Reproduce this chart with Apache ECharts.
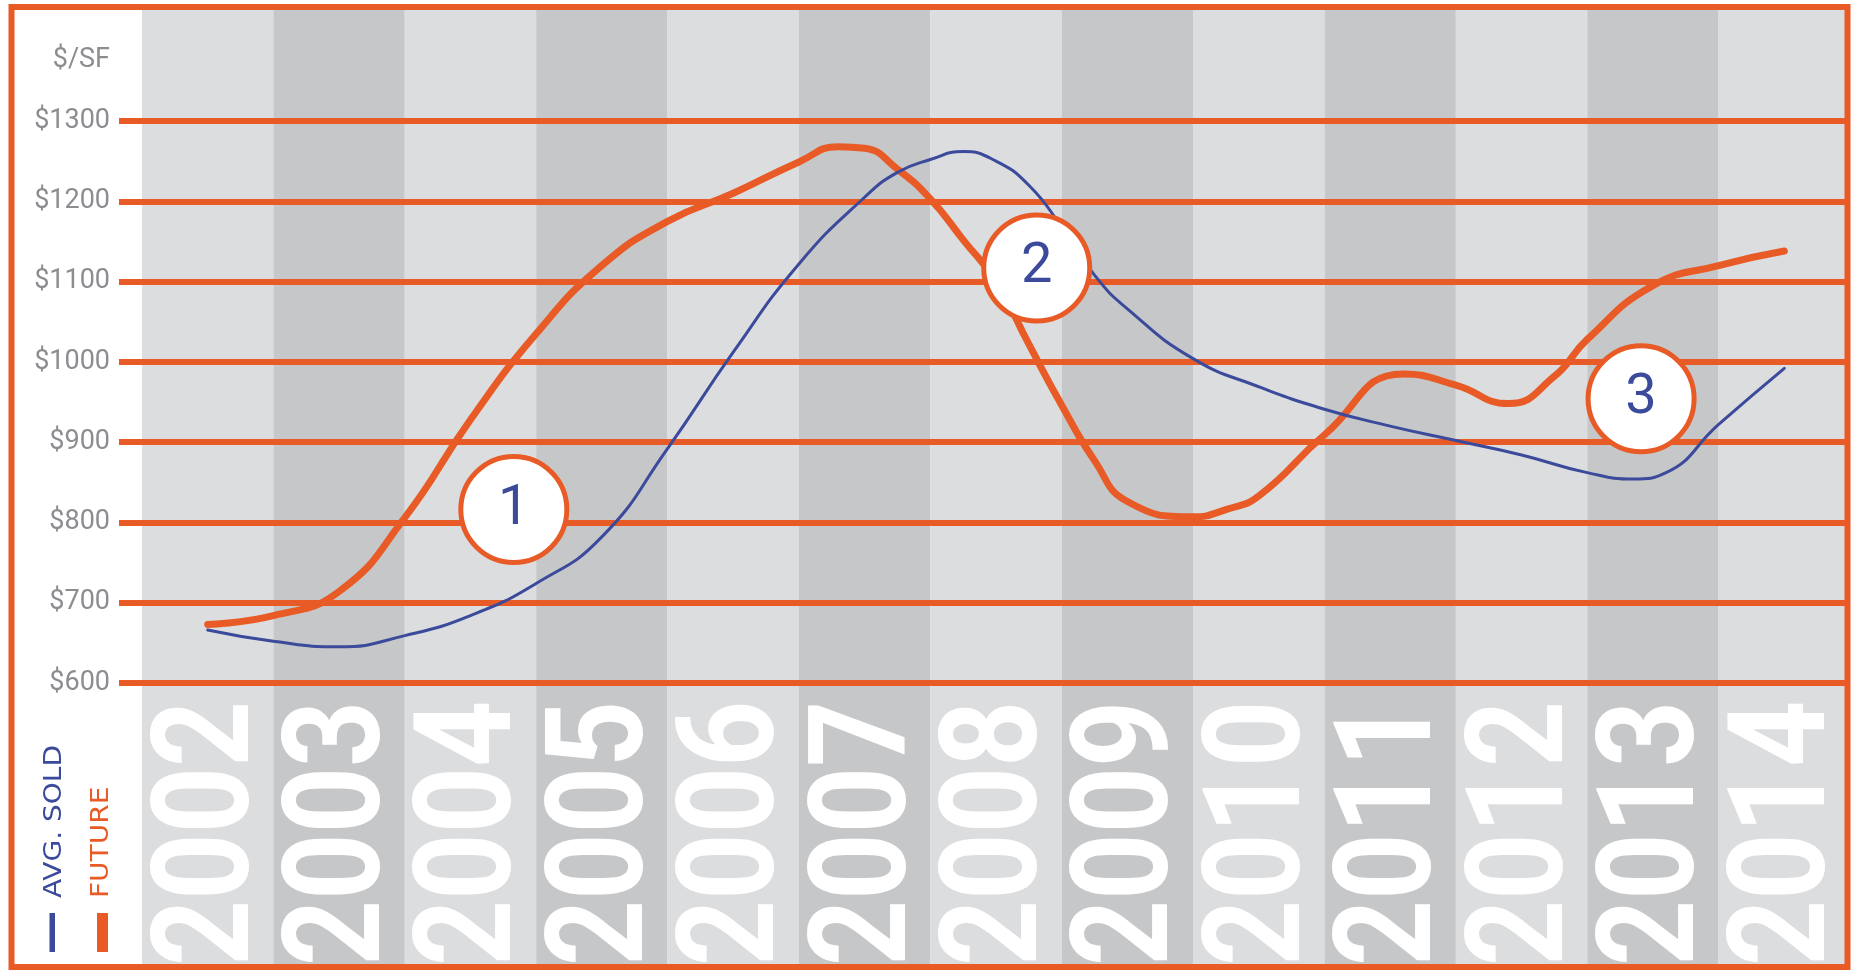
<!DOCTYPE html>
<html>
<head>
<meta charset="utf-8">
<script src="https://cdn.jsdelivr.net/npm/echarts@6/dist/echarts.min.js"></script>
<style>
html,body{margin:0;padding:0;background:#fff;}
#chart{width:1856px;height:970px;}
</style>
</head>
<body>
<div id="chart"></div>
<script>
// ---- data ----
const years = ['2002','2003','2004','2005','2006','2007','2008','2009','2010','2011','2012','2013','2014'];
// AVG. SOLD ($/SF), positions in years
const soldX = [2002,2002.5,2003,2003.5,2004,2004.5,2005,2005.5,2006,2006.5,2007,2007.25,2007.5,2007.75,2008,2008.25,2008.5,2008.75,2009,2009.5,2010,2010.5,2011,2011.5,2012,2012.5,2012.85,2013.1,2013.5,2014];
const soldY = [666,652,645,659,684,724,782,892,1012,1122,1205,1236,1252,1262,1250,1220,1168,1108,1066,1004,969,941,920,902,884,862,854,862,922,992];
// FUTURE ($/SF)
const futureX = [2002,2002.5,2003,2003.5,2004,2004.5,2005,2005.5,2006,2006.5,2006.8,2007,2007.25,2007.5,2007.75,2008,2008.25,2008.5,2008.75,2009,2009.5,2009.75,2010,2010.5,2011.1,2011.5,2011.9,2012.25,2012.5,2013,2013.5,2014];
const futureY = [673,684,714,806,928,1035,1120,1175,1210,1249,1268,1266,1240,1203,1152,1100,1022,946,877,826,807,816,833,909,985,971,948,982,1028,1095,1120,1138];
// numbered call-outs
const markerX = [2004.33, 2008.31, 2012.91];
const markerY = [816, 1117, 954];
const markerLabels = ['1','2','3'];
const yMin = 600, yMax = 1300, yStep = 100;

const ORANGE = '#e85b27', BLUE = '#3b4a9b', GRAY = '#8b8d91';
const LIGHT = '#dcdddf', DARK = '#c6c7c9';

const chart = echarts.init(document.getElementById('chart'), null, {renderer:'canvas'});
const option = {
  animation: false,
  backgroundColor: '#ffffff',
  grid: [
    {left:142, right:6, top:10, bottom:5},
    {left:142, right:6, top:121, bottom:287}
  ],
  xAxis: [
    {
      type:'category', gridIndex:0, data:years, boundaryGap:true, z:-1,
      axisLine:{show:false}, axisTick:{show:false}, splitLine:{show:false}, axisLabel:{show:false},
      splitArea:{show:true, interval:0, areaStyle:{color:[LIGHT, DARK]}}
    },
    {type:'value', gridIndex:1, min:2001.5, max:2014.5, show:false}
  ],
  yAxis: [
    {type:'value', gridIndex:0, show:false, min:0, max:1},
    {
      type:'value', gridIndex:1, min:yMin, max:yMax, interval:yStep,
      name:'$/SF', nameLocation:'end', nameGap:61,
      nameTextStyle:{color:GRAY, fontSize:27, fontFamily:'Roboto', align:'right', verticalAlign:'middle', padding:[0,32,0,0]},
      axisLine:{show:false},
      axisTick:{show:true, length:23, lineStyle:{color:ORANGE, width:6}},
      splitLine:{show:true, lineStyle:{color:ORANGE, width:6}},
      axisLabel:{margin:32, color:GRAY, fontSize:27, fontFamily:'Roboto', formatter:v => '$' + v}
    }
  ],
  series: [
    {
      // big vertical year labels at the foot of each column
      type:'custom', xAxisIndex:0, yAxisIndex:0, z:1, silent:true,
      data: years.map((y, i) => [i]),
      renderItem: (params, api) => {
        const idx = api.value(0);
        const p = api.coord([idx, 0]);
        return {
          type:'text', x:p[0] + 6, y:p[1] + 1, rotation:Math.PI/2, scaleX:0.85,
          style:{text:years[idx], fill:'#ffffff', fontSize:136, fontWeight:'bold',
                 fontFamily:'Roboto', align:'left', verticalAlign:'middle'}
        };
      }
    },
    {
      name:'FUTURE', type:'line', xAxisIndex:1, yAxisIndex:1, z:3,
      data: futureX.map((x,i) => [x, futureY[i]]),
      smooth:0.5, showSymbol:false, symbol:'none',
      lineStyle:{color:ORANGE, width:7, cap:'round', join:'round'}
    },
    {
      name:'AVG. SOLD', type:'line', xAxisIndex:1, yAxisIndex:1, z:4,
      data: soldX.map((x,i) => [x, soldY[i]]),
      smooth:0.5, showSymbol:false, symbol:'none',
      lineStyle:{color:BLUE, width:3, cap:'round', join:'round'}
    },
    {
      type:'scatter', xAxisIndex:1, yAxisIndex:1, z:6, silent:true,
      data: markerX.map((x,i) => ({value:[x, markerY[i]], name:markerLabels[i]})),
      symbol:'circle', symbolSize:106,
      itemStyle:{color:'#ffffff', borderColor:ORANGE, borderWidth:5, opacity:1},
      label:{show:true, position:'inside', formatter:p => p.name, color:BLUE, fontSize:56, fontFamily:'Roboto'}
    }
  ],
  graphic: [
    {type:'rect', z:100, shape:{x:11.5, y:7, width:1836, height:960}, style:{fill:'transparent', stroke:ORANGE, lineWidth:6}},
    {type:'text', z:100, x:54, y:898, rotation:Math.PI/2, scaleX:1.12,
      style:{text:'AVG. SOLD', fill:BLUE, fontSize:25, fontFamily:'DejaVu Sans', align:'left', verticalAlign:'middle'}},
    {type:'text', z:100, x:101, y:898, rotation:Math.PI/2, scaleX:1.12,
      style:{text:'FUTURE', fill:ORANGE, fontSize:25, fontFamily:'DejaVu Sans', align:'left', verticalAlign:'middle'}},
    {type:'rect', z:100, shape:{x:49.5, y:913, width:5.5, height:39}, style:{fill:BLUE}},
    {type:'rect', z:100, shape:{x:97, y:913, width:11, height:39}, style:{fill:ORANGE}}
  ]
};
chart.setOption(option);
</script>
</body>
</html>
